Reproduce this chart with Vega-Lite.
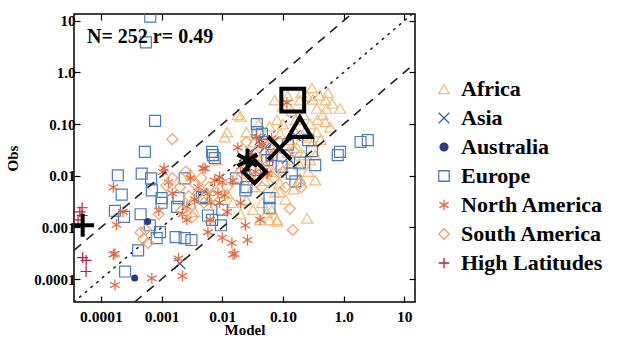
{
  "$schema": "https://vega.github.io/schema/vega-lite/v6.json",
  "width": 341,
  "height": 288,
  "autosize": {"type": "none"},
  "padding": {"left": 74, "top": 14, "right": 223, "bottom": 38},
  "background": "white",
  "config": {
    "view": {"stroke": "black", "strokeWidth": 1.5},
    "font": "Liberation Serif"
  },
  "datasets": {
    "refLines": [
      {"kind": "one", "model": 0.000036, "obs": 0.000036},
      {"kind": "one", "model": 15, "obs": 15},
      {"kind": "upper", "model": 0.0000036, "obs": 0.000036},
      {"kind": "upper", "model": 1.5, "obs": 15},
      {"kind": "lower", "model": 0.00036, "obs": 0.000036},
      {"kind": "lower", "model": 15, "obs": 1.5}
    ],
    "means": [
      {"region": "Africa", "model": 0.19, "obs": 0.087},
      {"region": "Asia", "model": 0.088, "obs": 0.034},
      {"region": "Europe", "model": 0.145, "obs": 0.29},
      {"region": "North America", "model": 0.026, "obs": 0.02},
      {"region": "South America", "model": 0.034, "obs": 0.012},
      {"region": "High Latitudes", "model": 0.00005, "obs": 0.0011}
    ],
    "stats": [
      {"label": "N= 252 r= 0.49", "model": 0.000059, "obs": 4.8}
    ],
    "sites": [
      {"region": "Africa", "model": 0.018, "obs": 0.15},
      {"region": "Africa", "model": 0.02, "obs": 0.14},
      {"region": "Africa", "model": 0.012, "obs": 0.07},
      {"region": "Africa", "model": 0.011, "obs": 0.056},
      {"region": "Africa", "model": 0.025, "obs": 0.07},
      {"region": "Africa", "model": 0.31, "obs": 0.3},
      {"region": "Africa", "model": 0.4, "obs": 0.36},
      {"region": "Africa", "model": 0.5, "obs": 0.29},
      {"region": "Africa", "model": 0.87, "obs": 0.2},
      {"region": "Africa", "model": 0.52, "obs": 0.2},
      {"region": "Africa", "model": 0.36, "obs": 0.2},
      {"region": "Africa", "model": 0.19, "obs": 0.29},
      {"region": "Africa", "model": 0.25, "obs": 0.35},
      {"region": "Africa", "model": 0.37, "obs": 0.12},
      {"region": "Africa", "model": 0.36, "obs": 0.07},
      {"region": "Africa", "model": 0.6, "obs": 0.087},
      {"region": "Africa", "model": 0.31, "obs": 0.045},
      {"region": "Africa", "model": 0.073, "obs": 0.29},
      {"region": "Africa", "model": 0.1, "obs": 0.22},
      {"region": "Africa", "model": 0.12, "obs": 0.35},
      {"region": "Africa", "model": 0.14, "obs": 0.18},
      {"region": "Africa", "model": 0.22, "obs": 0.15},
      {"region": "Africa", "model": 0.28, "obs": 0.1},
      {"region": "Africa", "model": 0.45, "obs": 0.15},
      {"region": "Africa", "model": 0.65, "obs": 0.25},
      {"region": "Africa", "model": 0.3, "obs": 0.5},
      {"region": "Africa", "model": 0.2, "obs": 0.4},
      {"region": "Africa", "model": 0.16, "obs": 0.12},
      {"region": "Africa", "model": 0.08, "obs": 0.12},
      {"region": "Africa", "model": 0.06, "obs": 0.09},
      {"region": "Africa", "model": 0.045, "obs": 0.06},
      {"region": "Africa", "model": 0.04, "obs": 0.1},
      {"region": "Africa", "model": 0.09, "obs": 0.065},
      {"region": "Africa", "model": 0.13, "obs": 0.05},
      {"region": "Africa", "model": 0.21, "obs": 0.06},
      {"region": "Africa", "model": 0.25, "obs": 0.055},
      {"region": "Africa", "model": 0.17, "obs": 0.035},
      {"region": "Africa", "model": 0.11, "obs": 0.04},
      {"region": "Africa", "model": 0.05, "obs": 0.03},
      {"region": "Africa", "model": 0.065, "obs": 0.025},
      {"region": "Africa", "model": 0.04, "obs": 0.02},
      {"region": "Africa", "model": 0.035, "obs": 0.03},
      {"region": "Africa", "model": 0.12, "obs": 0.028},
      {"region": "Africa", "model": 0.15, "obs": 0.02},
      {"region": "Africa", "model": 0.22, "obs": 0.025},
      {"region": "Africa", "model": 0.28, "obs": 0.02},
      {"region": "Africa", "model": 0.34, "obs": 0.025},
      {"region": "Africa", "model": 0.19, "obs": 0.016},
      {"region": "Africa", "model": 0.13, "obs": 0.018},
      {"region": "Africa", "model": 0.34, "obs": 0.0082},
      {"region": "Africa", "model": 0.26, "obs": 0.012},
      {"region": "Africa", "model": 0.088, "obs": 0.0072},
      {"region": "Africa", "model": 0.07, "obs": 0.012},
      {"region": "Africa", "model": 0.055, "obs": 0.014},
      {"region": "Africa", "model": 0.09, "obs": 0.016},
      {"region": "Africa", "model": 0.028, "obs": 0.011},
      {"region": "Africa", "model": 0.018, "obs": 0.009},
      {"region": "Africa", "model": 0.074, "obs": 0.0048},
      {"region": "Africa", "model": 0.088, "obs": 0.0048},
      {"region": "Africa", "model": 0.032, "obs": 0.0061},
      {"region": "Africa", "model": 0.015, "obs": 0.003},
      {"region": "Africa", "model": 0.025, "obs": 0.0034},
      {"region": "Africa", "model": 0.032, "obs": 0.0022},
      {"region": "Africa", "model": 0.065, "obs": 0.0022},
      {"region": "Africa", "model": 0.042, "obs": 0.0014},
      {"region": "Africa", "model": 0.08, "obs": 0.0014},
      {"region": "Africa", "model": 0.054, "obs": 0.0019},
      {"region": "Africa", "model": 0.06, "obs": 0.0014},
      {"region": "Africa", "model": 0.08, "obs": 0.0013},
      {"region": "Africa", "model": 0.25, "obs": 0.0015},
      {"region": "Africa", "model": 0.012, "obs": 0.0045},
      {"region": "Africa", "model": 0.02, "obs": 0.0018},
      {"region": "Africa", "model": 0.045, "obs": 0.003},
      {"region": "Africa", "model": 0.11, "obs": 0.0035},
      {"region": "Africa", "model": 0.05, "obs": 0.008},
      {"region": "Africa", "model": 0.15, "obs": 0.0055},
      {"region": "Africa", "model": 0.19, "obs": 0.009},
      {"region": "Africa", "model": 0.006, "obs": 0.0035},
      {"region": "Africa", "model": 0.009, "obs": 0.006},
      {"region": "Africa", "model": 0.0035, "obs": 0.002},
      {"region": "Africa", "model": 0.003, "obs": 0.011},
      {"region": "Africa", "model": 0.008, "obs": 0.02},
      {"region": "Africa", "model": 0.5, "obs": 0.11},
      {"region": "Africa", "model": 0.24, "obs": 0.08},
      {"region": "Africa", "model": 0.42, "obs": 0.05},
      {"region": "Africa", "model": 0.033, "obs": 0.045},
      {"region": "Africa", "model": 0.07, "obs": 0.04},
      {"region": "Africa", "model": 0.1, "obs": 0.1},
      {"region": "Africa", "model": 0.16, "obs": 0.07},
      {"region": "Africa", "model": 0.55, "obs": 0.4},
      {"region": "Asia", "model": 0.002, "obs": 0.0002},
      {"region": "Asia", "model": 0.05, "obs": 0.035},
      {"region": "Asia", "model": 0.07, "obs": 0.045},
      {"region": "Asia", "model": 0.03, "obs": 0.028},
      {"region": "Asia", "model": 0.12, "obs": 0.022},
      {"region": "Asia", "model": 0.16, "obs": 0.06},
      {"region": "Asia", "model": 0.042, "obs": 0.05},
      {"region": "Australia", "model": 0.00059, "obs": 0.0013},
      {"region": "Australia", "model": 0.00036, "obs": 0.000105},
      {"region": "Europe", "model": 0.00065, "obs": 12},
      {"region": "Europe", "model": 0.00055, "obs": 3.8},
      {"region": "Europe", "model": 0.00078, "obs": 0.115},
      {"region": "Europe", "model": 0.00053, "obs": 0.029},
      {"region": "Europe", "model": 0.00019, "obs": 0.0102},
      {"region": "Europe", "model": 0.00022, "obs": 0.0043},
      {"region": "Europe", "model": 0.00017, "obs": 0.0021},
      {"region": "Europe", "model": 0.00024, "obs": 0.0016},
      {"region": "Europe", "model": 0.00047, "obs": 0.011},
      {"region": "Europe", "model": 0.00067, "obs": 0.0089},
      {"region": "Europe", "model": 0.00069, "obs": 0.0052},
      {"region": "Europe", "model": 0.001, "obs": 0.003},
      {"region": "Europe", "model": 0.0024, "obs": 0.0089},
      {"region": "Europe", "model": 0.0018, "obs": 0.0025},
      {"region": "Europe", "model": 0.005, "obs": 0.0037},
      {"region": "Europe", "model": 0.0058, "obs": 0.0017},
      {"region": "Europe", "model": 0.00094, "obs": 0.00081},
      {"region": "Europe", "model": 0.00083, "obs": 0.00062},
      {"region": "Europe", "model": 0.0017, "obs": 0.00065},
      {"region": "Europe", "model": 0.0024, "obs": 0.00062},
      {"region": "Europe", "model": 0.0031, "obs": 0.00057},
      {"region": "Europe", "model": 0.00041, "obs": 0.00036},
      {"region": "Europe", "model": 0.00025, "obs": 0.00014},
      {"region": "Europe", "model": 0.007, "obs": 0.025},
      {"region": "Europe", "model": 0.0068, "obs": 0.029},
      {"region": "Europe", "model": 0.017, "obs": 0.0089},
      {"region": "Europe", "model": 0.024, "obs": 0.0052},
      {"region": "Europe", "model": 0.0046, "obs": 0.0039},
      {"region": "Europe", "model": 0.037, "obs": 0.1},
      {"region": "Europe", "model": 0.038, "obs": 0.07},
      {"region": "Europe", "model": 0.05, "obs": 0.045},
      {"region": "Europe", "model": 0.26, "obs": 0.049},
      {"region": "Europe", "model": 0.8, "obs": 0.025},
      {"region": "Europe", "model": 1.9, "obs": 0.045},
      {"region": "Europe", "model": 2.5, "obs": 0.049},
      {"region": "Europe", "model": 0.87, "obs": 0.029},
      {"region": "Europe", "model": 0.025, "obs": 0.006},
      {"region": "Europe", "model": 0.19, "obs": 0.018},
      {"region": "Europe", "model": 0.16, "obs": 0.0078},
      {"region": "Europe", "model": 0.06, "obs": 0.0024},
      {"region": "Europe", "model": 0.065, "obs": 0.025},
      {"region": "Europe", "model": 0.34, "obs": 0.016},
      {"region": "Europe", "model": 0.14, "obs": 0.011},
      {"region": "Europe", "model": 0.06, "obs": 0.0037},
      {"region": "Europe", "model": 0.01, "obs": 0.0022},
      {"region": "Europe", "model": 0.0068, "obs": 0.0014},
      {"region": "Europe", "model": 0.0095, "obs": 0.0011},
      {"region": "Europe", "model": 0.001, "obs": 0.0037},
      {"region": "Europe", "model": 0.0019, "obs": 0.0037},
      {"region": "Europe", "model": 0.00064, "obs": 0.0011},
      {"region": "Europe", "model": 0.3, "obs": 0.03},
      {"region": "Europe", "model": 0.045, "obs": 0.065},
      {"region": "Europe", "model": 0.055, "obs": 0.02},
      {"region": "Europe", "model": 0.095, "obs": 0.015},
      {"region": "Europe", "model": 0.12, "obs": 0.04},
      {"region": "Europe", "model": 0.0075, "obs": 0.022},
      {"region": "Europe", "model": 0.035, "obs": 0.013},
      {"region": "Europe", "model": 0.00045, "obs": 0.0018},
      {"region": "North America", "model": 0.00016, "obs": 0.006},
      {"region": "North America", "model": 0.00023, "obs": 0.002},
      {"region": "North America", "model": 0.00018, "obs": 0.00113},
      {"region": "North America", "model": 0.00017, "obs": 0.00031},
      {"region": "North America", "model": 0.00017, "obs": 0.000077},
      {"region": "North America", "model": 0.00069, "obs": 0.000104},
      {"region": "North America", "model": 0.0019, "obs": 0.00025},
      {"region": "North America", "model": 0.0022, "obs": 0.000115},
      {"region": "North America", "model": 0.00105, "obs": 0.0118},
      {"region": "North America", "model": 0.0015, "obs": 0.0046},
      {"region": "North America", "model": 0.0026, "obs": 0.0014},
      {"region": "North America", "model": 0.0052, "obs": 0.0139},
      {"region": "North America", "model": 0.0058, "obs": 0.0046},
      {"region": "North America", "model": 0.0026, "obs": 0.0025},
      {"region": "North America", "model": 0.0058, "obs": 0.00081},
      {"region": "North America", "model": 0.0144, "obs": 0.0005},
      {"region": "North America", "model": 0.016, "obs": 0.00031},
      {"region": "North America", "model": 0.0085, "obs": 0.0046},
      {"region": "North America", "model": 0.01, "obs": 0.0075},
      {"region": "North America", "model": 0.009, "obs": 0.0095},
      {"region": "North America", "model": 0.011, "obs": 0.0042},
      {"region": "North America", "model": 0.042, "obs": 0.0014},
      {"region": "North America", "model": 0.026, "obs": 0.00057},
      {"region": "North America", "model": 0.015, "obs": 0.0003},
      {"region": "North America", "model": 0.01, "obs": 0.00063},
      {"region": "North America", "model": 0.054, "obs": 0.011},
      {"region": "North America", "model": 0.009, "obs": 0.003},
      {"region": "North America", "model": 0.0063, "obs": 0.0014},
      {"region": "North America", "model": 0.0011, "obs": 0.0139},
      {"region": "North America", "model": 0.0048, "obs": 0.0139},
      {"region": "North America", "model": 0.0075, "obs": 0.0081},
      {"region": "North America", "model": 0.065, "obs": 0.053},
      {"region": "North America", "model": 0.116, "obs": 0.26},
      {"region": "North America", "model": 0.037, "obs": 0.056},
      {"region": "North America", "model": 0.056, "obs": 0.011},
      {"region": "North America", "model": 0.003, "obs": 0.009},
      {"region": "North America", "model": 0.004, "obs": 0.006},
      {"region": "North America", "model": 0.0035, "obs": 0.0035},
      {"region": "North America", "model": 0.0065, "obs": 0.003},
      {"region": "North America", "model": 0.012, "obs": 0.002},
      {"region": "North America", "model": 0.02, "obs": 0.003},
      {"region": "North America", "model": 0.015, "obs": 0.008},
      {"region": "North America", "model": 0.02, "obs": 0.015},
      {"region": "North America", "model": 0.03, "obs": 0.025},
      {"region": "North America", "model": 0.045, "obs": 0.04},
      {"region": "North America", "model": 0.018, "obs": 0.035},
      {"region": "North America", "model": 0.0022, "obs": 0.0018},
      {"region": "North America", "model": 0.00016, "obs": 0.0003},
      {"region": "North America", "model": 0.025, "obs": 0.02},
      {"region": "North America", "model": 0.035, "obs": 0.012},
      {"region": "North America", "model": 0.06, "obs": 0.02},
      {"region": "North America", "model": 0.08, "obs": 0.03},
      {"region": "North America", "model": 0.0009, "obs": 0.0021},
      {"region": "North America", "model": 0.0013, "obs": 0.0075},
      {"region": "North America", "model": 0.024, "obs": 0.0011},
      {"region": "South America", "model": 0.0015, "obs": 0.051},
      {"region": "South America", "model": 0.13, "obs": 0.0023},
      {"region": "South America", "model": 0.145, "obs": 0.00089},
      {"region": "South America", "model": 0.00045, "obs": 0.0008},
      {"region": "South America", "model": 0.0005, "obs": 0.0006},
      {"region": "South America", "model": 0.00055, "obs": 0.0009},
      {"region": "South America", "model": 0.0006, "obs": 0.0005},
      {"region": "South America", "model": 0.0015, "obs": 0.009},
      {"region": "South America", "model": 0.002, "obs": 0.006},
      {"region": "South America", "model": 0.0028, "obs": 0.004},
      {"region": "South America", "model": 0.0035, "obs": 0.007},
      {"region": "South America", "model": 0.004, "obs": 0.0045},
      {"region": "South America", "model": 0.005, "obs": 0.003},
      {"region": "South America", "model": 0.003, "obs": 0.0025},
      {"region": "South America", "model": 0.0025, "obs": 0.012},
      {"region": "South America", "model": 0.0045, "obs": 0.009},
      {"region": "South America", "model": 0.006, "obs": 0.006},
      {"region": "South America", "model": 0.007, "obs": 0.004},
      {"region": "South America", "model": 0.0032, "obs": 0.0016},
      {"region": "South America", "model": 0.0021, "obs": 0.0021},
      {"region": "South America", "model": 0.0012, "obs": 0.0065},
      {"region": "South America", "model": 0.02, "obs": 0.012},
      {"region": "South America", "model": 0.03, "obs": 0.008},
      {"region": "South America", "model": 0.045, "obs": 0.006},
      {"region": "South America", "model": 0.07, "obs": 0.009},
      {"region": "South America", "model": 0.1, "obs": 0.012},
      {"region": "South America", "model": 0.11, "obs": 0.006},
      {"region": "South America", "model": 0.2, "obs": 0.006},
      {"region": "South America", "model": 0.06, "obs": 0.035},
      {"region": "South America", "model": 0.09, "obs": 0.045},
      {"region": "South America", "model": 0.15, "obs": 0.03},
      {"region": "South America", "model": 0.04, "obs": 0.016},
      {"region": "South America", "model": 0.025, "obs": 0.045},
      {"region": "South America", "model": 0.19, "obs": 0.0072},
      {"region": "South America", "model": 0.0009, "obs": 0.0018},
      {"region": "South America", "model": 0.012, "obs": 0.006},
      {"region": "High Latitudes", "model": 0.000049, "obs": 0.0024},
      {"region": "High Latitudes", "model": 0.000049, "obs": 0.0017},
      {"region": "High Latitudes", "model": 0.000042, "obs": 0.0014},
      {"region": "High Latitudes", "model": 0.00005, "obs": 0.00026},
      {"region": "High Latitudes", "model": 0.000057, "obs": 0.00023},
      {"region": "High Latitudes", "model": 0.000057, "obs": 0.00014},
      {"region": "High Latitudes", "model": 0.000045, "obs": 0.002}
    ]
  },
  "layer": [
    {
      "data": {"name": "refLines"},
      "transform": [{"filter": "datum.kind === 'one'"}],
      "mark": {"type": "line", "clip": true, "color": "#222222", "strokeWidth": 1.6, "strokeDash": [1.5, 6], "strokeCap": "round"},
      "encoding": {
        "x": {"field": "model", "type": "quantitative", "scale": {"type": "log", "domain": [0.000036, 15], "nice": false}, "axis": {"orient": "top", "values": [0.0001, 0.001, 0.01, 0.1, 1, 10], "labels": false, "title": null, "domain": false, "grid": false, "tickSize": -6, "tickColor": "black", "tickWidth": 1.2}},
        "y": {"field": "obs", "type": "quantitative", "scale": {"type": "log", "domain": [0.000036, 13.5], "nice": false}, "axis": {"orient": "right", "values": [0.0001, 0.001, 0.01, 0.1, 1, 10], "labels": false, "title": null, "domain": false, "grid": false, "tickSize": -6, "tickColor": "black", "tickWidth": 1.2}}
      }
    },
    {
      "data": {"name": "sites"},
      "transform": [{"filter": "datum.region !== 'Australia'"}],
      "mark": {"type": "point", "filled": false, "strokeWidth": 1.2, "opacity": 1, "clip": true},
      "encoding": {
        "x": {"field": "model", "type": "quantitative", "title": "Model", "axis": {"orient": "bottom", "values": [0.0001, 0.001, 0.01, 0.1, 1, 10], "labelExpr": "datum.value > 9 ? '10' : datum.value > 0.9 ? '1.0' : datum.value > 0.09 ? '0.10' : datum.value > 0.009 ? '0.01' : datum.value > 0.0009 ? '0.001' : '0.0001'", "labelFont": "Liberation Serif", "labelFontSize": 15.5, "labelFontWeight": "bold", "labelColor": "black", "labelPadding": 13, "labelFlush": false, "titleFont": "Liberation Serif", "titleFontSize": 15, "titleFontWeight": "bold", "titleColor": "black", "titlePadding": -2, "domain": false, "grid": false, "tickSize": -6, "tickColor": "black", "tickWidth": 1.2}},
        "y": {"field": "obs", "type": "quantitative", "title": "Obs", "axis": {"orient": "left", "values": [0.0001, 0.001, 0.01, 0.1, 1, 10], "labelExpr": "datum.value > 9 ? '10' : datum.value > 0.9 ? '1.0' : datum.value > 0.09 ? '0.10' : datum.value > 0.009 ? '0.01' : datum.value > 0.0009 ? '0.001' : '0.0001'", "labelFont": "Liberation Serif", "labelFontSize": 15, "labelFontWeight": "bold", "labelColor": "black", "labelPadding": 5, "labelFlush": false, "titleFont": "Liberation Serif", "titleFontSize": 15, "titleFontWeight": "bold", "titleColor": "black", "titlePadding": 13, "domain": false, "grid": false, "tickSize": -6, "tickColor": "black", "tickWidth": 1.2}},
        "color": {
          "field": "region", "type": "nominal",
          "scale": {
            "domain": ["Africa", "Asia", "Australia", "Europe", "North America", "South America", "High Latitudes"],
            "range": ["#F4BD78", "#3B5BA8", "#2A3990", "#4A7DB8", "#E8653A", "#F0A26E", "#B3203C"]
          },
          "legend": {
            "title": null, "orient": "none", "legendX": 359, "legendY": 64, "padding": 0,
            "labelFont": "Liberation Serif", "labelFontSize": 22, "labelFontWeight": "bold", "labelOffset": 6,
            "symbolSize": 110, "symbolStrokeWidth": 1.3, "rowPadding": 7, "labelLimit": 300,
            "encode": {
              "labels": {"fill": {"value": {"expr": "scale('color', datum.value)"}}}
            }
          }
        },
        "shape": {
          "field": "region", "type": "nominal",
          "scale": {
            "domain": ["Africa", "Asia", "Australia", "Europe", "North America", "South America", "High Latitudes"],
            "range": [
              "triangle-up",
              "M-1,-1L1,1M-1,1L1,-1",
              "M-0.75,0A0.75,0.75 0 1,0 0.75,0A0.75,0.75 0 1,0 -0.75,0M-0.5,0A0.5,0.5 0 1,0 0.5,0A0.5,0.5 0 1,0 -0.5,0M-0.25,0A0.25,0.25 0 1,0 0.25,0A0.25,0.25 0 1,0 -0.25,0M-0.08,0L0.08,0",
              "square",
              "M0,-1L0,1M-0.87,-0.5L0.87,0.5M-0.87,0.5L0.87,-0.5",
              "diamond",
              "M-1,0L1,0M0,-1L0,1"
            ]
          },
          "legend": {
            "title": null, "orient": "none", "legendX": 359, "legendY": 64, "padding": 0,
            "labelFont": "Liberation Serif", "labelFontSize": 22, "labelFontWeight": "bold", "labelOffset": 6,
            "symbolSize": 110, "symbolStrokeWidth": 1.3, "rowPadding": 7, "labelLimit": 300,
            "encode": {
              "labels": {"fill": {"value": {"expr": "scale('color', datum.value)"}}}
            }
          }
        },
        "size": {"value": 120}
      }
    },
    {
      "data": {"name": "sites"},
      "transform": [{"filter": "datum.region === 'Australia'"}],
      "mark": {"type": "point", "filled": true, "shape": "circle", "color": "#2A3990", "opacity": 1, "size": 50, "clip": true},
      "encoding": {
        "x": {"field": "model", "type": "quantitative", "axis": null},
        "y": {"field": "obs", "type": "quantitative", "axis": null}
      }
    },
    {
      "data": {"name": "refLines"},
      "transform": [{"filter": "datum.kind !== 'one'"}],
      "mark": {"type": "line", "clip": true, "color": "#222222", "strokeWidth": 1.6, "strokeDash": [9, 7]},
      "encoding": {
        "x": {"field": "model", "type": "quantitative", "axis": null},
        "y": {"field": "obs", "type": "quantitative", "axis": null},
        "detail": {"field": "kind"}
      }
    },
    {
      "data": {"name": "means"},
      "mark": {"type": "point", "filled": false, "strokeWidth": 4, "color": "black", "opacity": 1, "clip": true},
      "encoding": {
        "x": {"field": "model", "type": "quantitative", "axis": null},
        "y": {"field": "obs", "type": "quantitative", "axis": null},
        "shape": {
          "field": "region", "type": "nominal",
          "legend": {
            "title": null, "orient": "none", "legendX": 359, "legendY": 64, "padding": 0,
            "labelFont": "Liberation Serif", "labelFontSize": 22, "labelFontWeight": "bold", "labelOffset": 6,
            "symbolSize": 110, "symbolStrokeWidth": 1.3, "rowPadding": 7, "labelLimit": 300,
            "encode": {
              "labels": {"fill": {"value": {"expr": "scale('color', datum.value)"}}}
            }
          }
        },
        "size": {"value": 520}
      }
    },
    {
      "data": {"name": "stats"},
      "mark": {"type": "text", "align": "left", "baseline": "middle", "font": "Liberation Serif", "fontSize": 20, "fontWeight": "bold", "color": "black"},
      "encoding": {
        "x": {"field": "model", "type": "quantitative", "axis": null},
        "y": {"field": "obs", "type": "quantitative", "axis": null},
        "text": {"field": "label"}
      }
    }
  ],
  "resolve": {"axis": {"x": "independent", "y": "independent"}}
}
